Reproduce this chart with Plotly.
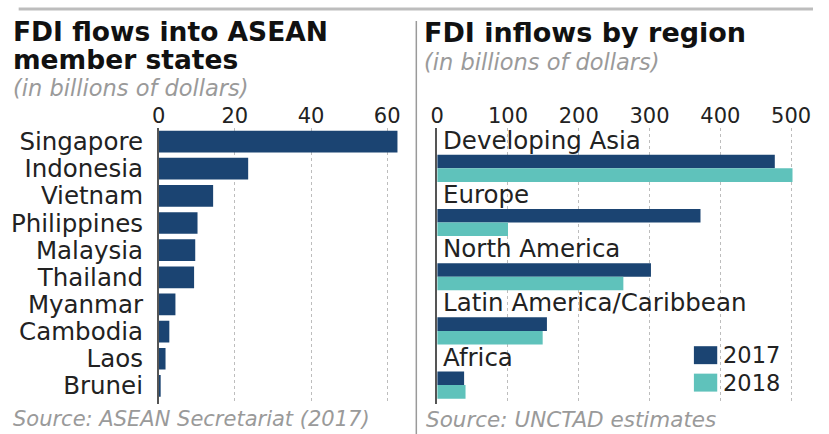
import plotly.graph_objects as go

# ASEAN member states, 2017 FDI inflows (billions of dollars)
countries = ["Singapore", "Indonesia", "Vietnam", "Philippines", "Malaysia",
             "Thailand", "Myanmar", "Cambodia", "Laos", "Brunei"]
country_fdi = [62.7, 23.5, 14.3, 10.2, 9.6, 9.3, 4.4, 2.8, 1.8, 0.5]

# FDI inflows by region (billions of dollars)
regions = ["Developing Asia", "Europe", "North America",
           "Latin America/Caribbean", "Africa"]
region_2017 = [477, 372, 302, 155, 38]
region_2018 = [502, 100, 263, 149, 40]
years = ["2017", "2018"]

left_ticks = [0, 20, 40, 60]
right_ticks = [0, 100, 200, 300, 400, 500]

NAVY = "#1b4472"
TEAL = "#5fc2bb"
FONT = "DejaVu Sans"
W, H = 829, 434

fig = go.Figure()

fig.add_trace(go.Bar(
    y=countries, x=country_fdi, orientation="h",
    marker=dict(color=NAVY, line=dict(width=0)),
    xaxis="x", yaxis="y", showlegend=False,
))
# Paired bars sit in the lower half of each region slot, label goes above
fig.add_trace(go.Bar(
    y=regions, x=region_2017, orientation="h", name=years[0],
    width=0.25, offset=-0.25,
    marker=dict(color=NAVY, line=dict(width=0)),
    xaxis="x2", yaxis="y2", showlegend=False,
))
fig.add_trace(go.Bar(
    y=regions, x=region_2018, orientation="h", name=years[1],
    width=0.25, offset=0,
    marker=dict(color=TEAL, line=dict(width=0)),
    xaxis="x2", yaxis="y2", showlegend=False,
))

ydom = [1 - 404 / H, 1 - 127 / H]
tickfont = dict(family=FONT, size=21, color="#222")

fig.update_layout(
    width=W, height=H,
    margin=dict(l=0, r=0, t=0, b=0),
    paper_bgcolor="white", plot_bgcolor="white",
    barmode="overlay", bargap=0.2,
    font=dict(family=FONT, color="#222"),
    xaxis=dict(domain=[156 / W, 406.7 / W], range=[0, 64], side="top",
               tickvals=left_ticks, tickfont=tickfont, ticks="",
               showgrid=True, gridcolor="#bdbdbd", griddash="dot", gridwidth=1,
               zeroline=False, showline=False, anchor="y"),
    yaxis=dict(domain=ydom, range=[9.67, -0.51],
               tickmode="array", tickvals=countries, ticktext=countries,
               tickfont=dict(family=FONT, size=24.5, color="#222"),
               ticks="", showline=True, linecolor="#555", linewidth=1.5,
               showgrid=False, anchor="x", ticklabelstandoff=9),
    xaxis2=dict(domain=[442.5 / W, 810.1 / W], range=[0, 505], side="top",
                tickvals=right_ticks, tickfont=tickfont, ticks="",
                showgrid=True, gridcolor="#bdbdbd", griddash="dot", gridwidth=1,
                zeroline=False, showline=False, anchor="y2"),
    yaxis2=dict(domain=ydom, range=[4.35, -0.75], showticklabels=False,
                ticks="", showline=True, linecolor="#555", linewidth=1.5,
                showgrid=False, anchor="x2"),
)

annotations = []
for r in regions:
    annotations.append(dict(
        x=0, y=r, xref="x2", yref="y2", text=r, showarrow=False,
        xanchor="left", yanchor="middle", xshift=4, yshift=28,
        font=dict(family=FONT, size=24.5, color="#222"),
    ))

def text(x, y, s, size, color="#111", bold=False, italic=False):
    if bold:
        s = "<b>" + s + "</b>"
    if italic:
        s = "<i>" + s + "</i>"
    annotations.append(dict(
        x=x / W, y=1 - y / H, xref="paper", yref="paper", text=s,
        showarrow=False, xanchor="left", yanchor="middle",
        font=dict(family=FONT, size=size, color=color),
    ))

text(4, 31, "FDI flows into ASEAN", 26.5, bold=True)
text(4, 59, "member states", 26.5, bold=True)
text(4, 87, "(in billions of dollars)", 22.5, color="#9a9a9a", italic=True)
text(427, 32, "FDI inflows by region", 27, bold=True)
text(427, 61, "(in billions of dollars)", 22.5, color="#9a9a9a", italic=True)
text(4, 419, "Source: ASEAN Secretariat (2017)", 21, color="#9a9a9a", italic=True)
text(429, 419, "Source: UNCTAD estimates", 21.5, color="#9a9a9a", italic=True)

shapes = [
    dict(type="line", xref="paper", yref="paper", x0=12 / W, x1=1, y0=1 - 8 / H, y1=1 - 8 / H,
         line=dict(color="#bdbdbd", width=3)),
    dict(type="line", xref="paper", yref="paper", x0=421 / W, x1=421 / W, y0=0, y1=1 - 20 / H,
         line=dict(color="#9a9a9a", width=1.5)),
]
# Legend swatches and year labels
for i, (yr, col) in enumerate(zip(years, [NAVY, TEAL])):
    top = 346 + i * 27.5
    shapes.append(dict(type="rect", xref="paper", yref="paper",
                       x0=706.5 / W, x1=730.5 / W, y0=1 - (top + 18) / H, y1=1 - top / H,
                       fillcolor=col, line=dict(width=0)))
    text(734, top + 9, yr, 22.5, color="#222")

fig.update_layout(annotations=annotations, shapes=shapes)
fig.write_html("out.html")
